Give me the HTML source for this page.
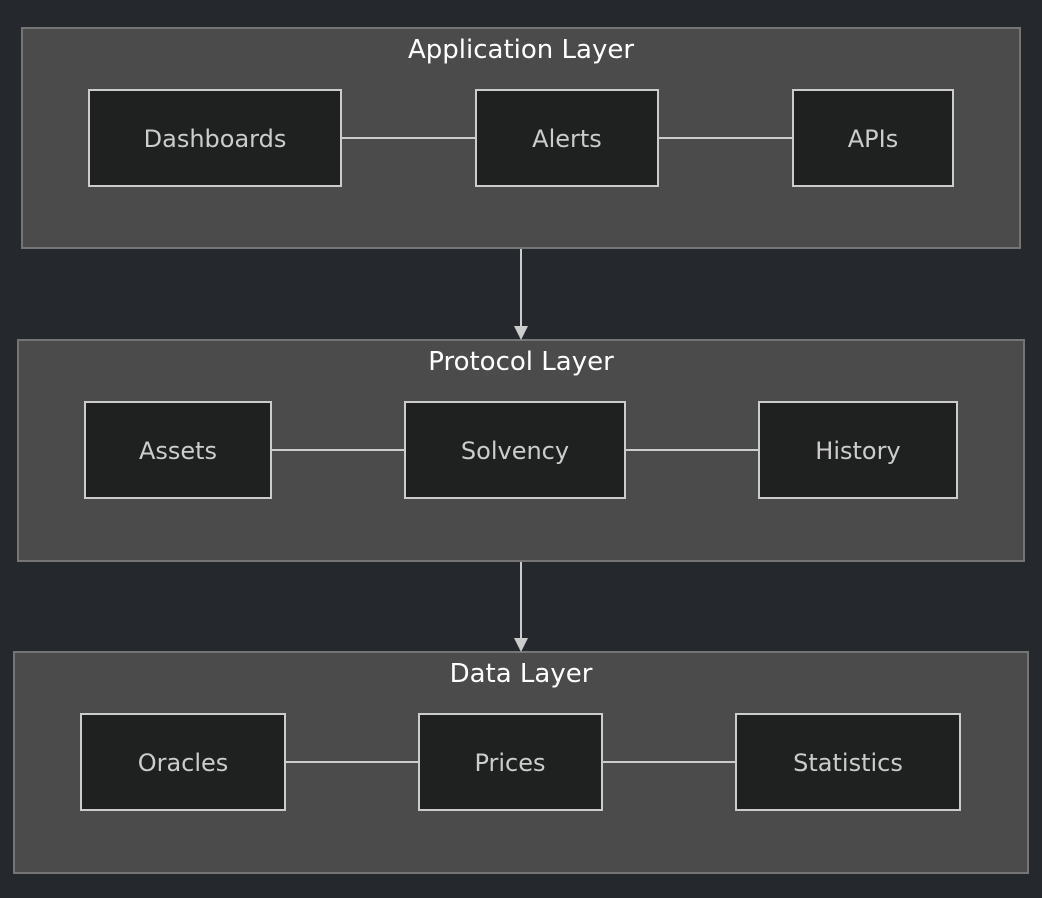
<!DOCTYPE html>
<html><head><meta charset="utf-8"><style>
html,body{margin:0;padding:0;background:#25282c;}
svg{display:block}
text{font-family:"DejaVu Sans","Liberation Sans",sans-serif;}
</style></head><body>
<svg width="1042" height="898" viewBox="0 0 1042 898" xmlns="http://www.w3.org/2000/svg">
<rect width="1042" height="898" fill="#25282c"/>
<g fill="#4a4b4a" stroke="#747574" stroke-width="2">
<rect x="22" y="28" width="998" height="220"/>
<rect x="18" y="340" width="1006" height="221"/>
<rect x="14" y="652" width="1014" height="221"/>
</g>
<g fill="#fff" font-size="26" text-anchor="middle" font-weight="500">
<text x="521" y="58">Application Layer</text>
<text x="521" y="370">Protocol Layer</text>
<text x="521" y="682">Data Layer</text>
</g>
<g stroke="#cccccc" stroke-width="2" fill="none">
<line x1="341" y1="138" x2="476" y2="138"/>
<line x1="658" y1="138" x2="793" y2="138"/>
<line x1="271" y1="450" x2="405" y2="450"/>
<line x1="625" y1="450" x2="759" y2="450"/>
<line x1="285" y1="762" x2="419" y2="762"/>
<line x1="602" y1="762" x2="736" y2="762"/>
<line x1="521" y1="249" x2="521" y2="328"/>
<line x1="521" y1="562" x2="521" y2="640"/>
</g>
<g fill="#cccccc">
<polygon points="514,326 528,326 521,340"/>
<polygon points="514,638 528,638 521,652"/>
</g>
<g fill="#1f2020" stroke="#cccccc" stroke-width="2">
<rect x="89" y="90" width="252" height="96"/>
<rect x="476" y="90" width="182" height="96"/>
<rect x="793" y="90" width="160" height="96"/>
<rect x="85" y="402" width="186" height="96"/>
<rect x="405" y="402" width="220" height="96"/>
<rect x="759" y="402" width="198" height="96"/>
<rect x="81" y="714" width="204" height="96"/>
<rect x="419" y="714" width="183" height="96"/>
<rect x="736" y="714" width="224" height="96"/>
</g>
<g fill="#cccccc" font-size="24" text-anchor="middle">
<text x="215" y="147">Dashboards</text>
<text x="567" y="147">Alerts</text>
<text x="873" y="147">APIs</text>
<text x="178" y="459">Assets</text>
<text x="515" y="459">Solvency</text>
<text x="858" y="459">History</text>
<text x="183" y="771">Oracles</text>
<text x="510" y="771">Prices</text>
<text x="848" y="771">Statistics</text>
</g>
</svg>
</body></html>
